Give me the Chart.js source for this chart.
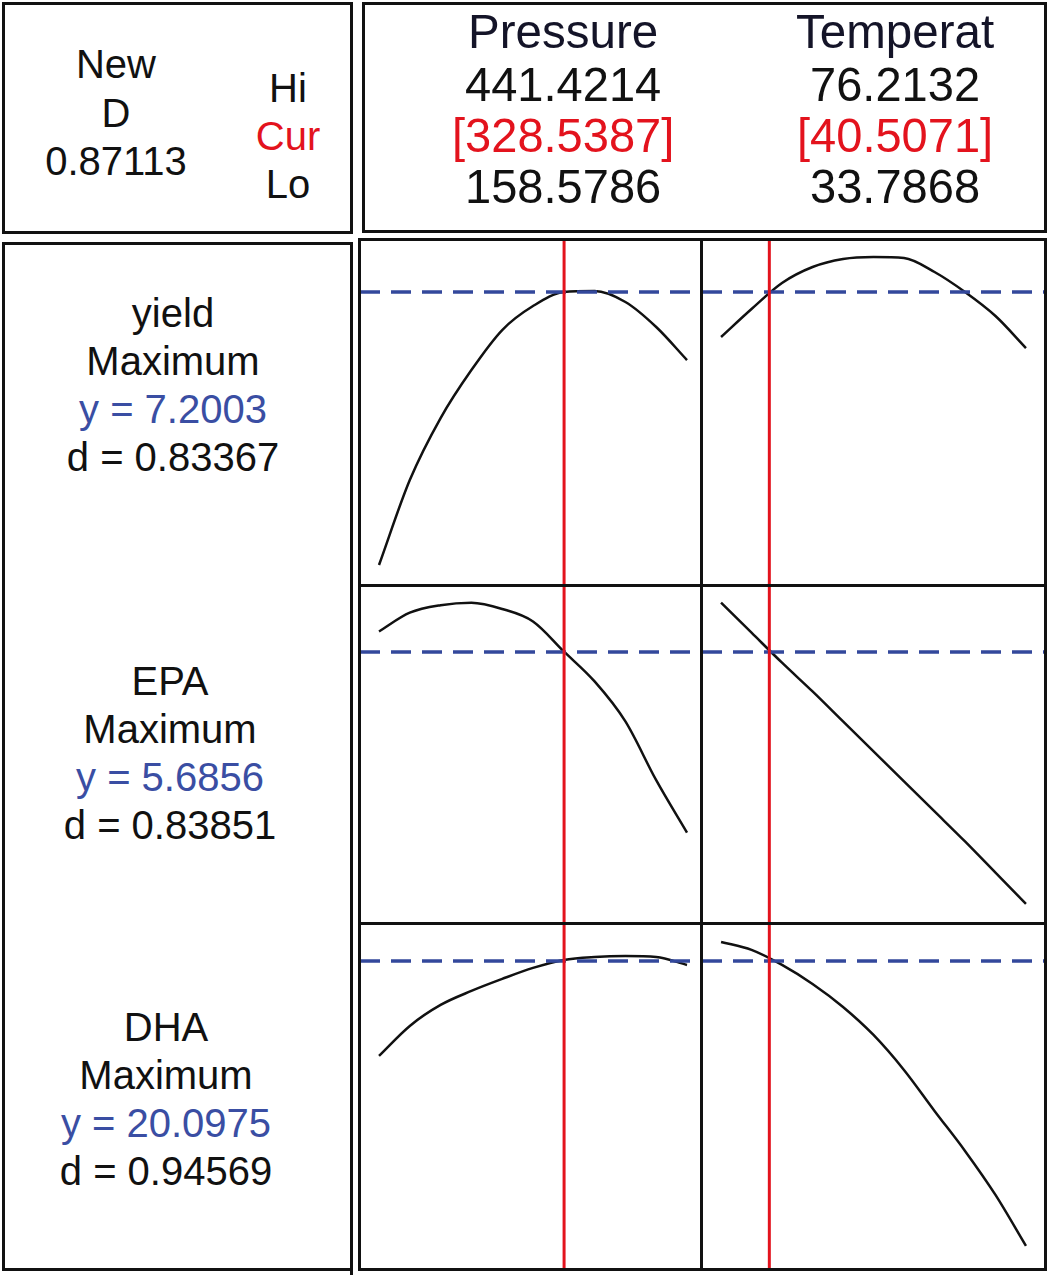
<!DOCTYPE html>
<html>
<head>
<meta charset="utf-8">
<script src="https://cdn.jsdelivr.net/npm/chart.js@4"></script>
<style>
  html, body { margin:0; padding:0; background:#fff; }
  body { width:1050px; height:1276px; position:relative; overflow:hidden;
         font-family:"Liberation Sans", Arial, Helvetica, sans-serif; }
  .box { position:absolute; box-sizing:border-box; border:3px solid #111; z-index:5; }
  .bar { position:absolute; background:#111; z-index:5; }
  .t { position:absolute; line-height:1; white-space:nowrap; z-index:6; transform-origin:0 0; }
  canvas { position:absolute; z-index:1; }
</style>
</head>
<body>
<script>
// ---------------- data ----------------
const factorNames = ['Pressure', 'Temperat'];
const factorHi  = [441.4214, 76.2132];
const factorCur = [328.5387, 40.5071];
const factorLo  = [158.5786, 33.7868];

const responseNames = ['yield', 'EPA', 'DHA'];
const responseGoals = ['Maximum', 'Maximum', 'Maximum'];
const responseY = [7.2003, 5.6856, 20.0975];
const responseD = [0.83367, 0.83851, 0.94569];
const compositeD = 0.87113;

const pressureX = [158.58, 186.86, 215.15, 243.43, 271.71, 300.00, 328.28, 356.56, 384.85, 413.13, 441.42];
const temperatX = [33.79, 38.03, 42.27, 46.52, 50.76, 55.00, 59.24, 63.49, 67.73, 71.97, 76.21];

const yieldVsPressure = [4.47, 5.32, 5.94, 6.42, 6.82, 7.06, 7.20, 7.21, 7.10, 6.85, 6.52];
const yieldVsTemperat = [6.75, 7.03, 7.29, 7.45, 7.53, 7.55, 7.54, 7.40, 7.20, 6.96, 6.64];
const epaVsPressure   = [5.85, 6.00, 6.06, 6.08, 6.03, 5.93, 5.69, 5.45, 5.13, 4.66, 4.24];
const epaVsTemperat   = [6.08, 5.84, 5.60, 5.37, 5.13, 4.89, 4.65, 4.41, 4.17, 3.92, 3.67];
const dhaVsPressure   = [17.25, 18.15, 18.78, 19.20, 19.56, 19.89, 20.13, 20.22, 20.25, 20.22, 19.98];
const dhaVsTemperat   = [20.67, 20.43, 19.98, 19.41, 18.72, 17.88, 16.83, 15.60, 14.40, 13.08, 11.55];

// axis ranges shown by each panel
const pressureRange = [141.13, 455.19];
const temperatRange = [31.14, 78.72];
const yieldRange = [4.2603, 7.7303];
const epaRange   = [3.5256, 6.2136];
const dhaRange   = [10.8575, 21.2675];

// ---------------- layout ----------------
const RED = '#e3131d';
const BLUE_TXT = '#3a4ea3';
const BLUE_LINE = '#33489c';

function box(l, t, w, h) {
  const d = document.createElement('div');
  d.className = 'box';
  Object.assign(d.style, {left:l+'px', top:t+'px', width:w+'px', height:h+'px'});
  document.body.appendChild(d);
}
function bar(l, t, w, h) {
  const d = document.createElement('div');
  d.className = 'bar';
  Object.assign(d.style, {left:l+'px', top:t+'px', width:w+'px', height:h+'px'});
  document.body.appendChild(d);
}
function label(text, cx, baseline, size, color, sx) {
  const d = document.createElement('div');
  d.className = 't';
  d.textContent = text;
  d.style.fontSize = size + 'px';
  d.style.color = color || '#111';
  d.style.top = (baseline - 0.8465 * size) + 'px';
  d.style.left = '0px';
  document.body.appendChild(d);
  const w = d.getBoundingClientRect().width * (sx || 1);
  d.style.left = (cx - w / 2) + 'px';
  d.style.transform = 'scaleX(' + (sx || 1) + ')';
}

// boxes
box(2, 2, 351, 232);        // top-left
box(362, 2, 685, 231);      // top-right
box(2, 242, 351, 1029);     // left labels
box(358, 238, 689, 1033);   // plot area
bar(350, 1268, 3, 7);       // small tick below left box
bar(700, 238, 3, 1033);     // column divider
bar(358, 584, 689, 3);      // row dividers
bar(358, 922, 689, 3);

// top-left text
const tlSize = 40;
label('New', 116, 78, tlSize);
label('D', 116, 127, tlSize);
label(compositeD.toFixed(5), 116, 175, tlSize);
label('Hi', 288, 102, tlSize);
label('Cur', 288, 150, tlSize, RED);
label('Lo', 288, 198, tlSize);

// top-right text
const colCenters = [563, 895];
const trSize = 49;
factorNames.forEach((n, i) => {
  const cx = colCenters[i];
  label(n, cx, 48, trSize, '#141428', 0.97);
  label(factorHi[i].toFixed(4), cx, 101, trSize, '#111', 0.96);
  label('[' + factorCur[i].toFixed(4) + ']', cx, 152, trSize, RED, 0.96);
  label(factorLo[i].toFixed(4), cx, 203, trSize, '#111', 0.96);
});

// left response labels
const lbCenters = [173, 170, 166];
const lbBase = [327, 695, 1041];
const lbSize = 40;
responseNames.forEach((n, i) => {
  const cx = lbCenters[i], b = lbBase[i];
  label(n, cx, b, lbSize);
  label(responseGoals[i], cx, b + 48, lbSize);
  label('y = ' + responseY[i].toFixed(4), cx, b + 96, lbSize, BLUE_TXT);
  label('d = ' + responseD[i].toFixed(5), cx, b + 144, lbSize);
});

// ---------------- charts ----------------
const colX = [360, 702];
const colW = 342;
const rowY = [239, 586, 922];
const rowH = [347, 336, 347];
const xRanges = [pressureRange, temperatRange];
const xSamples = [pressureX, temperatX];
const yRanges = [yieldRange, epaRange, dhaRange];
const curves = [
  [yieldVsPressure, yieldVsTemperat],
  [epaVsPressure, epaVsTemperat],
  [dhaVsPressure, dhaVsTemperat]
];

for (let r = 0; r < 3; r++) {
  for (let c = 0; c < 2; c++) {
    const cv = document.createElement('canvas');
    cv.width = colW; cv.height = rowH[r];
    cv.style.left = colX[c] + 'px';
    cv.style.top = rowY[r] + 'px';
    cv.style.width = colW + 'px';
    cv.style.height = rowH[r] + 'px';
    document.body.appendChild(cv);
    const xr = xRanges[c], yr = yRanges[r];
    const xs = xSamples[c], ys = curves[r][c];
    new Chart(cv, {
      type: 'line',
      data: {
        datasets: [
          { // current setting (red)
            data: [{x: factorCur[c], y: yr[0]}, {x: factorCur[c], y: yr[1]}],
            borderColor: RED, borderWidth: 3, pointRadius: 0, tension: 0
          },
          { // current response (blue dashed)
            data: [{x: xr[0], y: responseY[r]}, {x: xr[1], y: responseY[r]}],
            borderColor: BLUE_LINE, borderWidth: 3.5, borderDash: [20, 11], pointRadius: 0, tension: 0
          },
          { // response curve
            data: xs.map((x, i) => ({x: x, y: ys[i]})),
            borderColor: '#111', borderWidth: 2.5, pointRadius: 0,
            cubicInterpolationMode: 'monotone'
          }
        ]
      },
      options: {
        responsive: false,
        maintainAspectRatio: false,
        animation: false,
        events: [],
        layout: { padding: 0 },
        plugins: { legend: { display: false }, tooltip: { enabled: false }, title: { display: false } },
        scales: {
          x: { type: 'linear', display: false, min: xr[0], max: xr[1] },
          y: { type: 'linear', display: false, min: yr[0], max: yr[1] }
        }
      }
    });
  }
}
</script>
</body>
</html>
